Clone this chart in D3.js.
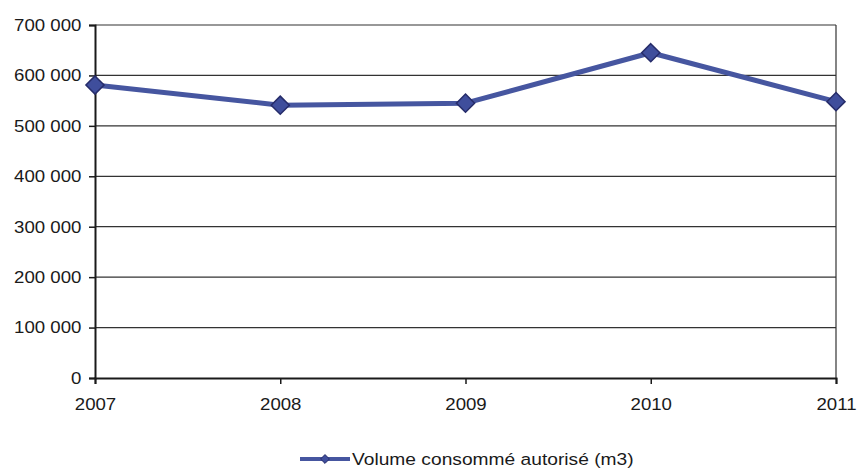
<!DOCTYPE html>
<html>
<head>
<meta charset="utf-8">
<script src="https://cdn.jsdelivr.net/npm/d3@7"></script>
<style>
  html, body { margin: 0; padding: 0; background: #fff; }
  svg { display: block; }
  text { font-family: "Liberation Sans", Arial, sans-serif; fill: #1a1a1a; }
</style>
</head>
<body>
<svg id="chart" width="857" height="469"></svg>
<script>
// Volume consommé autorisé, 2007–2011
const years = ["2007", "2008", "2009", "2010", "2011"];
const volumes = [581000, 541000, 545000, 645000, 548000];
const yTicks = [0, 100000, 200000, 300000, 400000, 500000, 600000, 700000];
const seriesName = "Volume consommé autorisé (m3)";

const plot = { left: 95, right: 836, top: 25, bottom: 378 };
const textStretch = "scale(1.13,1)"; // slightly wide glyphs, as in the printed chart

const svg = d3.select("#chart");

const x = d3.scalePoint().domain(years).range([plot.left, plot.right]).padding(0);
const y = d3.scaleLinear().domain([0, 700000]).range([plot.bottom, plot.top]);

const fmt = v => d3.format(",")(v).replace(/,/g, " ");

// horizontal grid lines
svg.append("g")
  .selectAll("line")
  .data(yTicks.filter(d => d > 0))
  .join("line")
  .attr("x1", plot.left).attr("x2", plot.right)
  .attr("y1", d => y(d)).attr("y2", d => y(d))
  .attr("stroke", "#333").attr("stroke-width", 1.2);

// right border of the plot area
svg.append("line")
  .attr("x1", plot.right).attr("x2", plot.right)
  .attr("y1", plot.top).attr("y2", plot.bottom)
  .attr("stroke", "#333").attr("stroke-width", 1.2);

// y axis
const yAxis = svg.append("g")
  .attr("transform", `translate(${plot.left},0)`)
  .call(d3.axisLeft(y).tickValues(yTicks).tickFormat(fmt).tickSize(6).tickPadding(6));
yAxis.select(".domain").attr("stroke", "#1a1a1a").attr("stroke-width", 2);
yAxis.selectAll(".tick line").attr("stroke", "#1a1a1a").attr("stroke-width", 1.5);
yAxis.selectAll(".tick text")
  .attr("font-size", 16.5)
  .attr("font-family", "Liberation Sans, Arial, sans-serif")
  .attr("fill", "#1a1a1a")
  .attr("transform", textStretch);

// x axis
const xAxis = svg.append("g")
  .attr("transform", `translate(0,${plot.bottom})`)
  .call(d3.axisBottom(x).tickSize(6).tickPadding(14));
xAxis.select(".domain").attr("stroke", "#1a1a1a").attr("stroke-width", 2);
xAxis.selectAll(".tick line").attr("stroke", "#1a1a1a").attr("stroke-width", 1.5);
xAxis.selectAll(".tick text")
  .attr("font-size", 16.5)
  .attr("font-family", "Liberation Sans, Arial, sans-serif")
  .attr("fill", "#1a1a1a")
  .attr("transform", textStretch);

// series line
const data = years.map((yr, i) => ({ year: yr, value: volumes[i] }));
const line = d3.line().x(d => x(d.year)).y(d => y(d.value));

svg.append("path")
  .datum(data)
  .attr("d", line)
  .attr("fill", "none")
  .attr("stroke", "#4656a0")
  .attr("stroke-width", 5)
  .attr("stroke-linejoin", "round");

// diamond markers
const diamond = d3.symbol().type(d3.symbolDiamond2).size(210);
svg.append("g")
  .selectAll("path")
  .data(data)
  .join("path")
  .attr("d", diamond)
  .attr("transform", d => `translate(${x(d.year)},${y(d.value)})`)
  .attr("fill", "#3f4e9c")
  .attr("stroke", "#262c6a")
  .attr("stroke-width", 1.5);

// legend
const lg = svg.append("g").attr("transform", "translate(0,459)");
lg.append("line")
  .attr("x1", 300).attr("x2", 350).attr("y1", 0).attr("y2", 0)
  .attr("stroke", "#4656a0").attr("stroke-width", 4);
lg.append("path")
  .attr("d", d3.symbol().type(d3.symbolDiamond2).size(50)())
  .attr("transform", "translate(325,0)")
  .attr("fill", "#3f4e9c").attr("stroke", "#262c6a").attr("stroke-width", 1);
lg.append("g")
  .attr("transform", "translate(352,0)")
  .append("text")
  .attr("transform", textStretch)
  .attr("dy", "0.35em")
  .attr("font-size", 17)
  .text(seriesName);
</script>
</body>
</html>
